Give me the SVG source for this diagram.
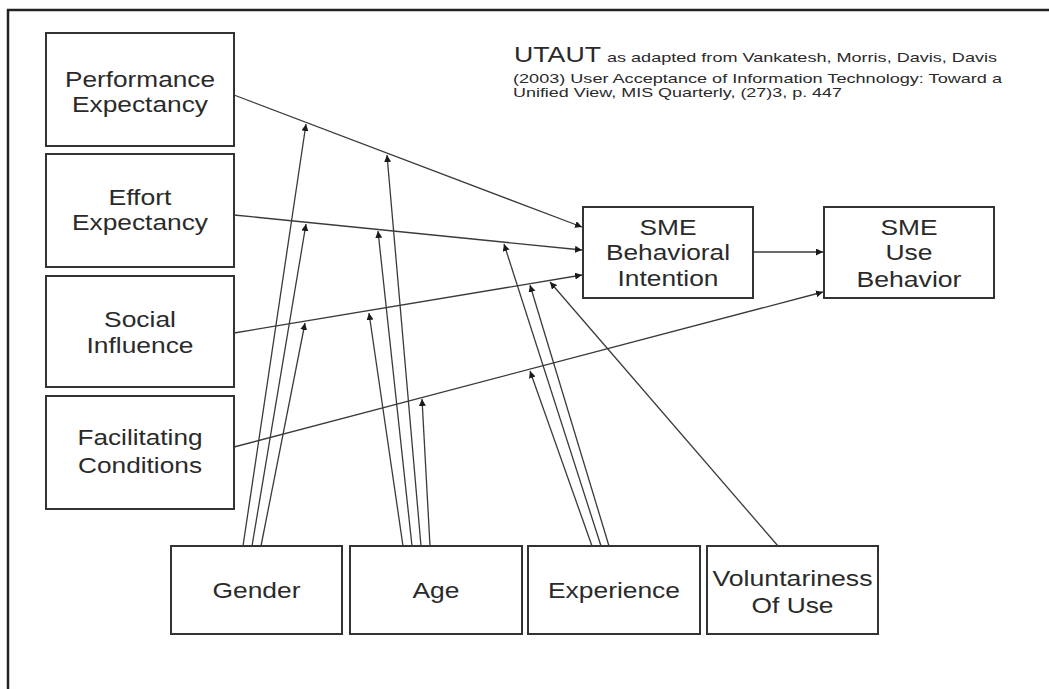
<svg xmlns="http://www.w3.org/2000/svg" width="1049" height="689" viewBox="0 0 1049 689">
<style>
.box{fill:#fff;stroke:#333;stroke-width:2}
.t{font-family:"Liberation Sans",Arial,sans-serif;font-size:22px;fill:#2a2a2a;text-anchor:middle}
.c{font-family:"Liberation Sans",Arial,sans-serif;font-size:13px;fill:#2a2a2a}
.ln{stroke:#3a3a3a;stroke-width:1.3;fill:none;marker-end:url(#ah)}
.lv{stroke:#3a3a3a;stroke-width:1.3;fill:none;marker-end:url(#ah)}
</style>
<defs>
<marker id="ah" markerWidth="8" markerHeight="8" refX="7" refY="3.5" orient="auto" markerUnits="userSpaceOnUse">
<path d="M0,0 L7,3.5 L0,7 z" fill="#1a1a1a"/>
</marker>
</defs>
<rect x="0" y="0" width="1049" height="689" fill="#fff"/>
<path d="M8,700 L8,10 L1060,10" fill="none" stroke="#222" stroke-width="2.5"/>

<g id="citation">
<text class="t" x="514" y="62" style="text-anchor:start" textLength="87" lengthAdjust="spacingAndGlyphs">UTAUT</text>
<text class="c" x="607" y="62" textLength="390" lengthAdjust="spacingAndGlyphs">as adapted from Vankatesh, Morris, Davis, Davis</text>
<text class="c" x="513" y="83" textLength="489" lengthAdjust="spacingAndGlyphs">(2003) User Acceptance of Information Technology: Toward a</text>
<text class="c" x="513" y="97" textLength="329" lengthAdjust="spacingAndGlyphs">Unified View, MIS Quarterly, (27)3, p. 447</text>
</g>

<g id="connectors">
<line class="ln" x1="234" y1="95" x2="582" y2="227"/>
<line class="ln" x1="234" y1="215" x2="582" y2="250"/>
<line class="ln" x1="234" y1="333" x2="582" y2="275"/>
<line class="ln" x1="234" y1="447" x2="823" y2="292"/>
<line class="ln" x1="753" y1="252" x2="823" y2="252"/>
<line class="lv" x1="243" y1="546" x2="306" y2="124"/>
<line class="lv" x1="252" y1="546" x2="306" y2="224"/>
<line class="lv" x1="261" y1="546" x2="305" y2="323"/>
<line class="lv" x1="421" y1="546" x2="387" y2="155"/>
<line class="lv" x1="412" y1="546" x2="378" y2="231"/>
<line class="lv" x1="403" y1="546" x2="369" y2="313"/>
<line class="lv" x1="430" y1="546" x2="422" y2="399"/>
<line class="lv" x1="601" y1="546" x2="504" y2="244"/>
<line class="lv" x1="609" y1="546" x2="530" y2="285"/>
<line class="lv" x1="592" y1="546" x2="530" y2="371"/>
<line class="lv" x1="778" y1="546" x2="550" y2="282"/>
</g>

<g id="performance-expectancy">
<rect class="box" x="46" y="33" width="188" height="113"/>
<text class="t" x="140" y="87" textLength="150" lengthAdjust="spacingAndGlyphs">Performance</text>
<text class="t" x="140" y="112" textLength="136" lengthAdjust="spacingAndGlyphs">Expectancy</text>
</g>
<g id="effort-expectancy">
<rect class="box" x="46" y="154" width="188" height="113"/>
<text class="t" x="140" y="205" textLength="63" lengthAdjust="spacingAndGlyphs">Effort</text>
<text class="t" x="140" y="230" textLength="136" lengthAdjust="spacingAndGlyphs">Expectancy</text>
</g>
<g id="social-influence">
<rect class="box" x="46" y="276" width="188" height="111"/>
<text class="t" x="140" y="327" textLength="72" lengthAdjust="spacingAndGlyphs">Social</text>
<text class="t" x="140" y="353" textLength="107" lengthAdjust="spacingAndGlyphs">Influence</text>
</g>
<g id="facilitating-conditions">
<rect class="box" x="46" y="396" width="188" height="113"/>
<text class="t" x="140" y="445" textLength="125" lengthAdjust="spacingAndGlyphs">Facilitating</text>
<text class="t" x="140" y="473" textLength="124" lengthAdjust="spacingAndGlyphs">Conditions</text>
</g>
<g id="behavioral-intention">
<rect class="box" x="583" y="207" width="170" height="91"/>
<text class="t" x="668" y="235" textLength="57" lengthAdjust="spacingAndGlyphs">SME</text>
<text class="t" x="668" y="260" textLength="124" lengthAdjust="spacingAndGlyphs">Behavioral</text>
<text class="t" x="668" y="286" textLength="101" lengthAdjust="spacingAndGlyphs">Intention</text>
</g>
<g id="use-behavior">
<rect class="box" x="824" y="207" width="170" height="91"/>
<text class="t" x="909" y="235" textLength="57" lengthAdjust="spacingAndGlyphs">SME</text>
<text class="t" x="909" y="260" textLength="47" lengthAdjust="spacingAndGlyphs">Use</text>
<text class="t" x="909" y="287" textLength="105" lengthAdjust="spacingAndGlyphs">Behavior</text>
</g>
<g id="gender">
<rect class="box" x="171" y="546" width="171" height="88"/>
<text class="t" x="256.5" y="598" textLength="88" lengthAdjust="spacingAndGlyphs">Gender</text>
</g>
<g id="age">
<rect class="box" x="350" y="546" width="172" height="88"/>
<text class="t" x="436" y="598" textLength="47" lengthAdjust="spacingAndGlyphs">Age</text>
</g>
<g id="experience">
<rect class="box" x="528" y="546" width="172" height="88"/>
<text class="t" x="614" y="598" textLength="132" lengthAdjust="spacingAndGlyphs">Experience</text>
</g>
<g id="voluntariness">
<rect class="box" x="707" y="546" width="171" height="88"/>
<text class="t" x="792.5" y="586" textLength="160" lengthAdjust="spacingAndGlyphs">Voluntariness</text>
<text class="t" x="792.5" y="613" textLength="82" lengthAdjust="spacingAndGlyphs">Of Use</text>
</g>
</svg>
